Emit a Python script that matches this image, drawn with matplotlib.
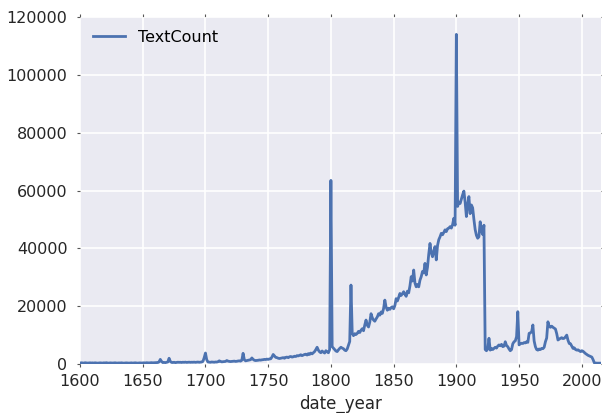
#!/usr/bin/python3

import numpy as np
import matplotlib
matplotlib.use("Agg")
import matplotlib.pyplot as plt

# yearly text counts, 1600..2015, one row per decade
startYear = 1600
textCount = [
    350, 420, 380, 300, 450, 400, 330, 370, 410, 360,
    390, 340, 420, 380, 310, 360, 400, 350, 330, 410,
    380, 450, 360, 320, 400, 370, 340, 390, 420, 350,
    330, 380, 360, 410, 340, 300, 370, 390, 350, 320,
    360, 400, 330, 380, 420, 350, 310, 370, 390, 340,
    380, 420, 360, 450, 400, 380, 430, 470, 410, 440,
    450, 480, 520, 700, 1600, 900, 500, 550, 480, 600,
    700, 2000, 900, 550, 520, 600, 480, 560, 620, 580,
    600, 540, 620, 580, 650, 560, 600, 640, 580, 620,
    600, 650, 580, 620, 680, 600, 640, 700, 900, 2200,
    3800, 1500, 700, 650, 600, 700, 650, 620, 700, 680,
    800, 1100, 900, 750, 800, 850, 900, 1200, 1000, 900,
    850, 900, 950, 1000, 900, 950, 1050, 1100, 1000, 1300,
    3700, 1500, 1100, 1200, 1300, 1400, 1500, 2100, 1600, 1300,
    1200, 1250, 1300, 1400, 1350, 1450, 1500, 1600, 1550, 1700,
    1600, 1750, 1800, 2400, 3300, 2800, 2300, 2200, 2000, 1900,
    2000, 2100, 2200, 2000, 2300, 2400, 2200, 2500, 2600, 2400,
    2500, 2700, 2600, 2900, 2800, 3000, 3200, 2900, 3100, 3300,
    3400, 3100, 3600, 3300, 3800, 3500, 3900, 4300, 5000, 5800,
    4800, 4200, 3900, 4500, 4100, 3800, 4600, 4200, 3900, 5000,
    63500, 6000, 5500, 5000, 4500, 4300, 4900, 5400, 5800, 5500,
    5300, 4800, 4600, 5200, 6500, 7800, 27300, 10600, 9800, 10500,
    10200, 10600, 11300, 10900, 11700, 12200, 11500, 13500, 15200, 13400,
    12800, 14500, 17400, 16000, 15200, 14800, 15600, 16300, 17400, 16900,
    18000, 17500, 19200, 22100, 19700, 18600, 19300, 18900, 19500, 19800,
    19100, 20200, 22600, 21800, 23000, 24400, 23700, 24300, 25000, 24100,
    23400, 25200, 24600, 27000, 30200, 28700, 32500, 28000, 26700, 27500,
    26700, 29000, 30200, 32000, 31500, 34800, 30800, 33500, 38000, 41700,
    38500, 37100, 39000, 40600, 36000, 41000, 43000, 44000, 45200, 44700,
    45500, 46400, 45800, 46800, 47000, 47500, 47000, 48200, 50400, 48000,
    114000, 54500, 56000, 55500, 57000, 58500, 59800, 56000, 51000, 55000,
    57900, 52000, 55000, 54000, 50000, 46500, 44500, 43500, 44000, 49200,
    46000, 44800, 48000, 5000, 4600, 5200, 8900, 4800, 5400, 5000,
    5400, 5800, 5500, 6200, 6600, 6300, 6800, 6000, 6200, 7700,
    6400, 6000, 5200, 4600, 5000, 7000, 7700, 8000, 9500, 18100,
    6600, 7000, 7200, 7100, 7400, 7300, 7700, 7500, 10600, 10800,
    11100, 13500, 8000, 6000, 5000, 4800, 5200, 5000, 5400, 5300,
    5800, 7700, 9000, 14600, 13000, 12700, 13100, 12700, 12400, 12100,
    10500, 8300, 8600, 8900, 9100, 8800, 8900, 9400, 10000, 8200,
    7100, 7000, 6200, 5400, 5600, 5000, 4800, 4900, 4600, 4300,
    4600, 4400, 4000, 3600, 3300, 3000, 2800, 2600, 2400, 1500,
    400, 350, 300, 300, 300, 300,
]
years = np.arange(startYear, startYear + len(textCount))

xTicks = [1600, 1650, 1700, 1750, 1800, 1850, 1900, 1950, 2000]
yTicks = [0, 20000, 40000, 60000, 80000, 100000, 120000]

fig = plt.figure(figsize=(6.02, 4.13), dpi=100)
ax = fig.add_axes([0.1329, 0.1186, 0.8648, 0.8402])
ax.set_facecolor('#EAEAF2')
for s in ax.spines.values():
    s.set_visible(False)

ax.plot(years, textCount, color='#4C72B0', linewidth=2.0, label="TextCount", zorder=3)

ax.set_xlim(1600, 2015)
ax.set_ylim(0, 120000)
ax.set_xticks(xTicks)
ax.set_yticks(yTicks)
ax.grid(True, color='white', linewidth=1.2)
ax.set_axisbelow(True)
ax.tick_params(axis='both', which='both', labelsize=11.5, labelcolor='#262626',
               color='#555555', length=2, width=0.8,
               top=True, right=True, direction='out', pad=5)
ax.tick_params(axis='y', pad=7)

ax.set_xlabel('date_year', fontsize=12, color='#262626', labelpad=4)

leg = ax.legend(loc='upper left', frameon=False, fontsize=11.5, handlelength=2.0,
                borderaxespad=0.4)

plt.savefig("out.png", dpi=100)
